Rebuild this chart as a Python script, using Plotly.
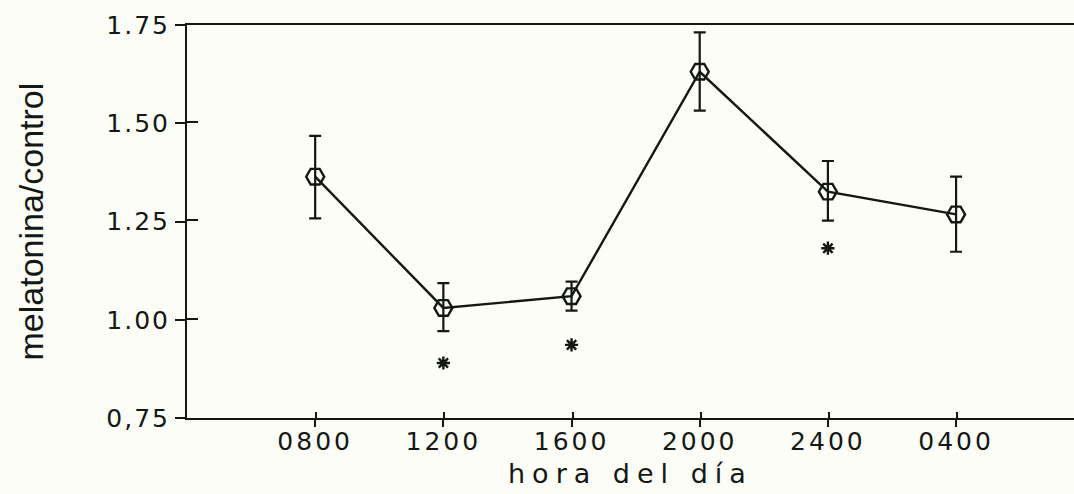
import plotly.graph_objects as go

horas = ["0800", "1200", "1600", "2000", "2400", "0400"]
media = [1.364, 1.030, 1.060, 1.631, 1.326, 1.268]
error_sup = [0.104, 0.063, 0.037, 0.100, 0.078, 0.096]
error_inf = [0.106, 0.059, 0.037, 0.099, 0.074, 0.095]

sig_horas = ["1200", "1600", "2400"]
sig_y = [0.890, 0.936, 1.182]

ytick_vals = [0.75, 1.00, 1.25, 1.50, 1.75]
ytick_text = ["0,75", "1.00", "1.25", "1.50", "1.75"]

ink = "#141814"
bg = "#fdfdf8"
xrange_ = [-1.0, 5.92]
yrange_ = [0.75, 1.75]

# category positions on a linear axis (index of each hour in the list)
pos = {h: i for i, h in enumerate(horas)}
x_media = [pos[h] for h in horas]
x_sig = [pos[h] for h in sig_horas]

def spaced(s, px):
    return '<span style="letter-spacing:%dpx">%s</span>' % (px, s)

fig = go.Figure()
fig.add_trace(go.Scatter(
    x=x_media, y=media, mode="lines+markers",
    line=dict(color=ink, width=2.4),
    marker=dict(symbol="hexagon2-open", size=18, color=ink, line=dict(width=2.4, color=ink)),
    error_y=dict(type="data", array=error_sup, arrayminus=error_inf, symmetric=False,
                 color=ink, thickness=2.2, width=6),
    showlegend=False,
))
fig.add_trace(go.Scatter(
    x=x_sig, y=sig_y, mode="markers",
    marker=dict(symbol="asterisk-open", size=11, color=ink, line=dict(width=2.4, color=ink)),
    showlegend=False,
))

fig.update_layout(
    width=1074, height=494,
    margin=dict(l=187, r=0, t=25, b=76),
    paper_bgcolor=bg, plot_bgcolor=bg,
    font=dict(family="DejaVu Sans", color=ink),
    xaxis=dict(
        range=xrange_,
        tickvals=x_media, ticktext=[spaced(h, 3) for h in horas],
        showline=True, linecolor=ink, linewidth=2, mirror=True,
        ticks="outside", ticklen=7, tickwidth=2, tickcolor=ink,
        ticklabelstandoff=-7,
        minor=dict(tickmode="array", tickvals=[v + 0.008 for v in x_media], ticks="inside",
                   ticklen=6, tickwidth=2, tickcolor=ink, showgrid=False),
        showgrid=False, zeroline=False,
        tickfont=dict(family="DejaVu Sans", size=25, color=ink),
    ),
    yaxis=dict(
        range=yrange_, tickvals=ytick_vals,
        ticktext=[spaced(t, 2) for t in ytick_text],
        showline=True, linecolor=ink, linewidth=2, mirror=False,
        ticks="outside", ticklen=10, tickwidth=2, tickcolor=ink,
        minor=dict(tickmode="array", tickvals=[v + 0.003 for v in ytick_vals[1:-1]], ticks="inside",
                   ticklen=11, tickwidth=2, tickcolor=ink, showgrid=False),
        showgrid=False, zeroline=False,
        tickfont=dict(family="DejaVu Sans", size=25, color=ink),
    ),
    annotations=[
        dict(text="melatonina/control", xref="paper", yref="paper", x=0, y=0.5,
             xanchor="center", yanchor="middle", xshift=-157, textangle=-90,
             showarrow=False,
             font=dict(family="Liberation Sans", size=34, color=ink)),
        dict(text=spaced("hora del día", 7), xref="paper", yref="paper", x=0.5, y=0,
             xanchor="center", yanchor="top", yshift=-38, showarrow=False,
             font=dict(family="DejaVu Sans", size=27, color=ink)),
    ],
)

fig.write_html("out.html")
